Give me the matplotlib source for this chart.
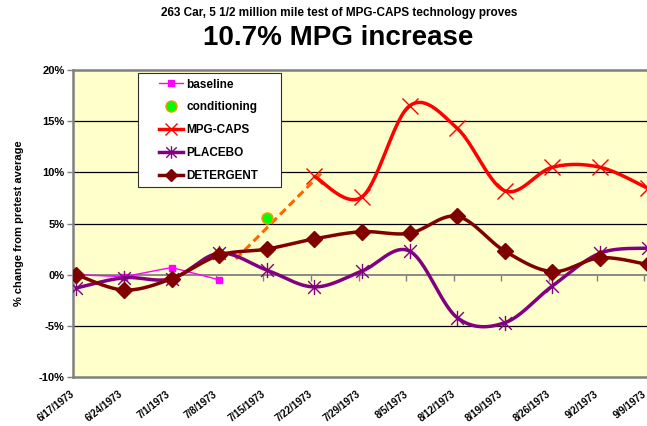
import matplotlib
matplotlib.use("Agg")
import matplotlib.pyplot as plt
import numpy as np
from matplotlib.path import Path
from matplotlib.lines import Line2D
from matplotlib.patches import Rectangle
from matplotlib.ticker import FuncFormatter
from matplotlib.transforms import ScaledTranslation

dates = ["6/17/1973", "6/24/1973", "7/1/1973", "7/8/1973", "7/15/1973", "7/22/1973",
         "7/29/1973", "8/5/1973", "8/12/1973", "8/19/1973", "8/26/1973", "9/2/1973", "9/9/1973"]
baseline = [0.0, -0.2, 0.7, -0.5]
conditioning_idx = [4]
conditioning = [5.5]
mpg_caps_idx = list(range(5, 13))
mpg_caps = [9.6, 7.6, 16.5, 14.3, 8.2, 10.5, 10.5, 8.45]
placebo = [-1.3, -0.3, -0.4, 2.1, 0.45, -1.2, 0.35, 2.3, -4.2, -4.7, -1.1, 2.1, 2.6]
detergent = [0.0, -1.5, -0.4, 1.9, 2.5, 3.5, 4.2, 4.05, 5.7, 2.3, 0.3, 1.65, 1.0]
trend_x = [3.35, 5.15]
trend_y = [1.53, 9.94]
yticks = [-10, -5, 0, 5, 10, 15, 20]

W, H = 647, 426
fig = plt.figure(figsize=(W / 100, H / 100), dpi=100)
plt.rcParams['font.family'] = ['Liberation Sans', 'DejaVu Sans']

left_px, right_px, top_px, bot_px = 73, 660, 70, 377
ax = fig.add_axes([left_px / W, 1 - bot_px / H, (right_px - left_px) / W, (bot_px - top_px) / H])
ax.set_facecolor('#FFFFCC')
x0_px, dx_px = 76.4, 47.6


def smooth(xs, ys, n=30):
    P = np.column_stack([xs, ys]).astype(float)
    if len(P) < 3:
        return P[:, 0], P[:, 1]
    ext = np.vstack([P[0], P, P[-1]])
    out = []
    for i in range(1, len(ext) - 2):
        p0, p1, p2, p3 = ext[i - 1], ext[i], ext[i + 1], ext[i + 2]
        c1 = p1 + (p2 - p0) / 6.0
        c2 = p2 - (p3 - p1) / 6.0
        t = np.linspace(0, 1, n)[:, None]
        seg = (1 - t) ** 3 * p1 + 3 * (1 - t) ** 2 * t * c1 + 3 * (1 - t) * t ** 2 * c2 + t ** 3 * p2
        out.append(seg if i == 1 else seg[1:])
    out = np.vstack(out)
    return out[:, 0], out[:, 1]


star_path = Path([(-1, -1), (1, 1), (-1, 1), (1, -1), (0, -1.2), (0, 1.2)],
                 [Path.MOVETO, Path.LINETO, Path.MOVETO, Path.LINETO, Path.MOVETO, Path.LINETO])

# gridlines
for yv in yticks:
    if yv in (0, -10, 20):
        continue
    ax.axhline(yv, color='black', lw=0.9, zorder=1)
ax.axhline(0, color='#808080', lw=1.3, zorder=1)
xi = np.arange(len(dates))
ax.plot(xi - 0.07, np.zeros(len(dates)), linestyle='none', marker=3, markersize=4,
        color='#808080', markeredgewidth=1, zorder=1, clip_on=False)

# baseline
bx = np.arange(len(baseline))
ax.plot(bx, baseline, color='#FF00FF', lw=1, marker='s', markersize=5, zorder=3)

# trend dashed
ax.plot(trend_x, trend_y, color='#FF6600', lw=2.2, dashes=(2.6, 1.5), zorder=4)

# placebo
sx, sy = smooth(xi, placebo)
ax.plot(sx, sy, color='#800080', lw=2.5, zorder=5, solid_capstyle='round')
ax.plot(xi, placebo, linestyle='none', marker=star_path, markersize=11, markeredgewidth=1,
        color='#800080', zorder=5)

# detergent
sx, sy = smooth(xi, detergent)
ax.plot(sx, sy, color='#800000', lw=2.5, zorder=6, solid_capstyle='round')
ax.plot(xi, detergent, linestyle='none', marker='D', markersize=8, color='#800000', zorder=6)

# mpg caps
sx, sy = smooth(mpg_caps_idx, mpg_caps)
ax.plot(sx, sy, color='#FF0000', lw=2.5, zorder=7, solid_capstyle='round')
ax.plot(mpg_caps_idx, mpg_caps, linestyle='none', marker='x', markersize=11, markeredgewidth=1,
        color='#FF0000', zorder=7)

# conditioning
ax.plot(conditioning_idx, conditioning, linestyle='none', marker='o', markersize=8,
        markerfacecolor='#00FF00', markeredgecolor='#FF9900', markeredgewidth=1, zorder=8)

# axes styling
for s in ['left', 'bottom', 'top']:
    ax.spines[s].set_color('#808080')
    ax.spines[s].set_linewidth(1.8)
ax.spines['right'].set_visible(False)
ax.set_yticks(yticks)
ax.yaxis.set_major_formatter(FuncFormatter(lambda v, p: f"{int(v)}%"))
ax.tick_params(axis='y', length=4, width=1, color='#808080', pad=2, labelsize=8)
for lab in ax.get_yticklabels():
    lab.set_fontweight('bold')
ax.set_xticks(xi)
ax.set_xticklabels(dates, rotation=38, ha='right', va='top', fontsize=7.1, fontweight='bold',
                   rotation_mode='anchor')
ax.tick_params(axis='x', length=0, pad=8.5)
shift = ScaledTranslation(-6 / 100, 0, fig.dpi_scale_trans)
for lab in ax.get_xticklabels():
    lab.set_transform(lab.get_transform() + shift)
ax.set_ylabel('% change from pretest average', fontsize=8, fontweight='bold', labelpad=11)

ax.set_xlim((left_px - x0_px) / dx_px, (right_px - x0_px) / dx_px)
ax.set_ylim(-10, 20)

# legend
frame = Rectangle((138 / W, 1 - 187 / H), (281 - 138) / W, (187 - 73) / H,
                  transform=fig.transFigure, facecolor='white', edgecolor='#303030',
                  lw=0.8, zorder=19)
fig.patches.append(frame)
handles = [
    Line2D([], [], color='#FF00FF', lw=1, marker='s', markersize=5),
    Line2D([], [], linestyle='none', marker='o', markersize=8, markerfacecolor='#00FF00',
           markeredgecolor='#FF9900'),
    Line2D([], [], color='#FF0000', lw=2.5, marker='x', markersize=9, markeredgewidth=1),
    Line2D([], [], color='#800080', lw=2.5, marker=star_path, markersize=9, markeredgewidth=1),
    Line2D([], [], color='#800000', lw=2.5, marker='D', markersize=6),
]
labels = ['baseline', 'conditioning', 'MPG-CAPS', 'PLACEBO', 'DETERGENT']
leg = fig.legend(handles, labels, loc='upper left', bbox_to_anchor=(159 / W, 1 - 78.5 / H),
                 frameon=False, prop={'weight': 'bold', 'size': 8.5}, handlelength=2.0,
                 handletextpad=0.3, labelspacing=0.92, borderpad=0, borderaxespad=0)
leg.set_zorder(20)

fig.text(339 / W, 1 - 13 / H, '263 Car, 5 1/2 million mile test of MPG-CAPS technology proves',
         ha='center', va='center', fontsize=8.5, fontweight='bold')
fig.text(338 / W, 1 - 38 / H, '10.7% MPG increase', ha='center', va='center', fontsize=20,
         fontweight='bold')

fig.savefig('out.png', dpi=100)
